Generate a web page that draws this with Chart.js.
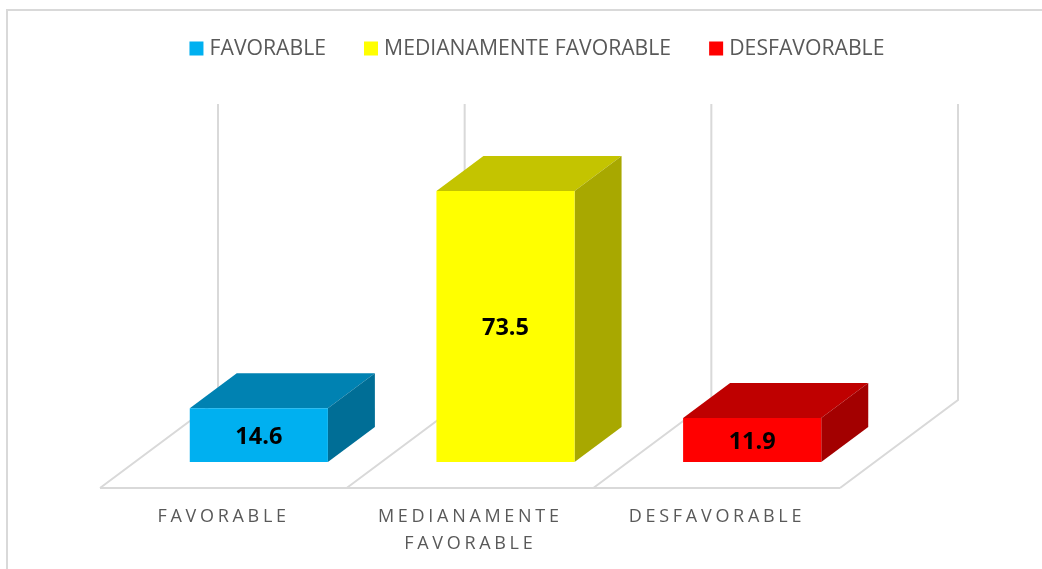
<!DOCTYPE html>
<html><head><meta charset="utf-8">
<style>html,body{margin:0;padding:0;background:#fff;overflow:hidden}canvas{display:block}</style>
<script src="https://cdn.jsdelivr.net/npm/chart.js@4"></script>
</head><body><canvas id="c" width="1042" height="569"></canvas>
<script>
const categories = ["FAVORABLE", "MEDIANAMENTE FAVORABLE", "DESFAVORABLE"];
const axisLabels = ["FAVORABLE", ["MEDIANAMENTE", "FAVORABLE"], "DESFAVORABLE"];
const values = [14.6, 73.5, 11.9];
const frontColors = ["#00B0F0", "#FFFF00", "#FF0000"];
const topColors = ["#0082B2", "#C4C400", "#BF0000"];
const sideColors = ["#006E96", "#A8A800", "#A30000"];
const yMax = 80;

const FONT = '"Open Sans", sans-serif';
const GRID = "#D9D9D9";
// projection of the 3D box, in pixels
const floorDX = 118, floorDY = 88, frontDX = 35.5, frontDY = 26, barDX = 47, barDY = 35, wallRise = 63;

function poly(ctx, pts, fill) {
  ctx.beginPath();
  pts.forEach((p, i) => i ? ctx.lineTo(p[0], p[1]) : ctx.moveTo(p[0], p[1]));
  ctx.closePath();
  ctx.fillStyle = fill;
  ctx.fill();
}

const box3d = {
  id: "box3d",
  afterLayout(chart) {
    const s = chart.scales.x;
    if (!s.__spaced) {
      const orig = s.drawLabels;
      s.drawLabels = function (a) {
        chart.ctx.letterSpacing = "3.7px";
        orig.call(this, a);
        chart.ctx.letterSpacing = "0px";
      };
      s.__spaced = true;
    }
    const lg = chart.legend;
    lg.top = 38 - chart.options.plugins.legend.labels.padding;
    lg.left = 18.2;
    lg.right = 1042 + 18.2;
  },
  beforeDraw(chart) {
    const ctx = chart.ctx;
    ctx.save();
    ctx.strokeStyle = GRID;
    ctx.lineWidth = 2;
    ctx.strokeRect(7, 10, 1200, 1000);
    ctx.restore();
  },
  beforeDatasetsDraw(chart) {
    const ctx = chart.ctx, x = chart.scales.x, ca = chart.chartArea;
    const band = (x.right - x.left) / categories.length;
    const floorY = ca.bottom + frontDY;
    ctx.save();
    ctx.strokeStyle = GRID;
    ctx.lineWidth = 2;
    ctx.beginPath();
    ctx.moveTo(ca.left - frontDX, floorY);
    ctx.lineTo(ca.right - frontDX, floorY);
    for (let i = 0; i <= categories.length; i++) {
      const fx = x.getPixelForValue(i) - band / 2 - frontDX;
      const backX = fx + floorDX, backY = floorY - floorDY;
      ctx.moveTo(fx, floorY);
      ctx.lineTo(backX, backY);
      ctx.lineTo(backX, ca.top - wallRise);
    }
    ctx.stroke();
    chart.getDatasetMeta(0).data.forEach((b, i) => {
      const l = b.x - b.width / 2, r = b.x + b.width / 2;
      poly(ctx, [[l, b.y], [r, b.y], [r + barDX, b.y - barDY], [l + barDX, b.y - barDY]], topColors[i]);
      poly(ctx, [[r, b.y], [r + barDX, b.y - barDY], [r + barDX, b.base - barDY], [r, b.base]], sideColors[i]);
    });
    ctx.restore();
  },
  afterDatasetsDraw(chart) {
    const ctx = chart.ctx;
    ctx.save();
    ctx.font = 'bold 23.5px ' + FONT;
    ctx.fillStyle = "#000";
    ctx.textAlign = "center";
    ctx.textBaseline = "middle";
    chart.getDatasetMeta(0).data.forEach((b, i) => {
      ctx.fillText(values[i].toFixed(1), b.x, (b.y + b.base) / 2 + 2);
    });
    ctx.restore();
  }
};

const spacerAxis = (position, width) => ({
  position,
  min: 0,
  max: yMax,
  grid: { display: false, drawTicks: false },
  border: { display: false },
  ticks: { display: false },
  afterFit(s) { s.width = width; }
});

new Chart(document.getElementById("c"), {
  type: "bar",
  data: {
    labels: axisLabels,
    datasets: [{
      data: values,
      yAxisID: "y",
      backgroundColor: frontColors,
      borderWidth: 0,
      barPercentage: 0.56,
      categoryPercentage: 1
    }]
  },
  options: {
    responsive: false,
    animation: false,
    layout: { padding: { left: 0, right: 0, top: 93.3, bottom: 0 } },
    scales: {
      y: spacerAxis("left", 135.5),
      yRight: spacerAxis("right", 166.5),
      x: {
        grid: { display: false, drawTicks: false },
        border: { display: false },
        afterFit(s) { s.height = 107; },
        ticks: {
          autoSkip: false,
          maxRotation: 0,
          labelOffset: -35.2,
          padding: 41,
          color: "#595959",
          font: { family: FONT, size: 18, lineHeight: "27px" }
        }
      }
    },
    plugins: {
      tooltip: { enabled: false },
      legend: {
        position: "top",
        labels: {
          padding: 42.5,
          boxWidth: 5,
          boxHeight: 5,
          color: "#595959",
          font: { family: FONT, size: 21.2 },
          generateLabels: () => categories.map((c, i) => ({
            text: c,
            fillStyle: frontColors[i],
            strokeStyle: frontColors[i],
            lineWidth: 9,
            fontColor: "#595959",
            hidden: false,
            index: i
          }))
        }
      }
    }
  },
  plugins: [box3d]
});
</script></body></html>
